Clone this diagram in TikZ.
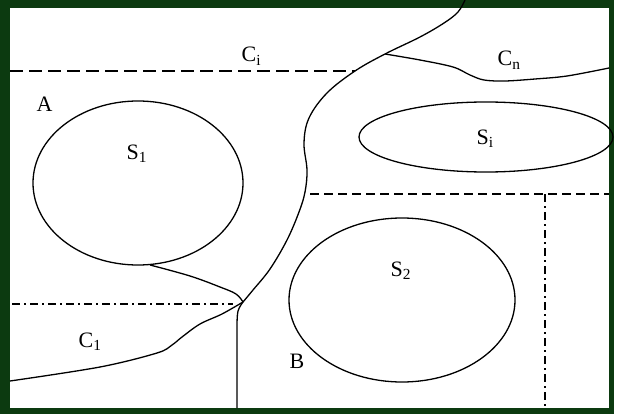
\documentclass[tikz,border=0pt]{standalone}
\usepackage{fontspec}
\setmainfont{Liberation Serif}
\definecolor{frameg}{RGB}{12,58,16}
\begin{document}
\begin{tikzpicture}[x=1pt,y=-1pt,
  line width=1.3pt, line join=round,
  lbl/.style={anchor=base west, inner sep=0pt, font=\fontsize{22}{25}\selectfont},
  curve/.style={draw=black, line width=1.3pt},
  dashA/.style={draw=black, line width=1.5pt, dash pattern=on 13pt off 6pt},
  dashB/.style={draw=black, line width=1.5pt, dash pattern=on 9pt off 5pt},
  dashdot/.style={draw=black, line width=1.5pt, dash pattern=on 8pt off 4pt on 2pt off 4pt}]
\useasboundingbox (0,0) rectangle (617,414);
\fill[white] (0,0) rectangle (617,414);
% frame
\fill[frameg] (0,0) rectangle (10,414);
\fill[frameg] (0,0) rectangle (614,8);
\fill[frameg] (609,0) rectangle (614,414);
\fill[frameg] (0,408) rectangle (614,414);
% dashed lines
\draw[dashA] (10,71) -- (355,71);
\draw[dashB] (310,194) -- (609,194);
\draw[dashdot] (12,304) -- (233,304);
\draw[dashdot] (545,194) -- (545,408);
% ellipses
\draw[curve] (138,183) ellipse [x radius=105, y radius=82];
\draw[curve] (486,137) ellipse [x radius=127, y radius=35];
\draw[curve] (402,300) ellipse [x radius=113, y radius=82];
% main boundary
\draw[curve] plot[smooth, tension=0.6] coordinates {(465,0) (458,12) (444,23) (420,37) (385,54) (355,71) (327,93) (309,118) (304,143) (307,170) (305,192) (299,212) (287,240) (270,269) (253,290) (243,302)};
\draw[curve] plot[smooth, tension=0.6] coordinates {(243,302) (238,311) (237,325)} -- (237,408);
% C1 boundary
\draw[curve] plot[smooth, tension=0.55] coordinates {(243,302) (222,314) (200,324) (182,337) (172,345) (157,353) (100,367) (10,381)};
% S1 hook
\draw[curve] plot[smooth, tension=0.6] coordinates {(150,265) (190,276) (220,287) (236,294) (243,302)};
% Cn boundary
\draw[curve] plot[smooth, tension=0.55] coordinates {(385,54) (420,60) (453,67) (470,75) (484,80) (505,81) (535,79) (567,76) (609,68)};
% labels
\node[lbl] (ci) at (241,62) {C\textsubscript{i}};
\node[lbl] (cn) at (497,66) {C\textsubscript{n}};
\node[lbl] (a) at (36,112) {A};
\node[lbl] (s1) at (126,159) {S\textsubscript{1}};
\node[lbl] (si) at (476,144) {S\textsubscript{i}};
\node[lbl] (s2) at (390,276) {S\textsubscript{2}};
\node[lbl] (c1) at (78,347) {C\textsubscript{1}};
\node[lbl] (b) at (289,368) {B};
\end{tikzpicture}
\end{document}
